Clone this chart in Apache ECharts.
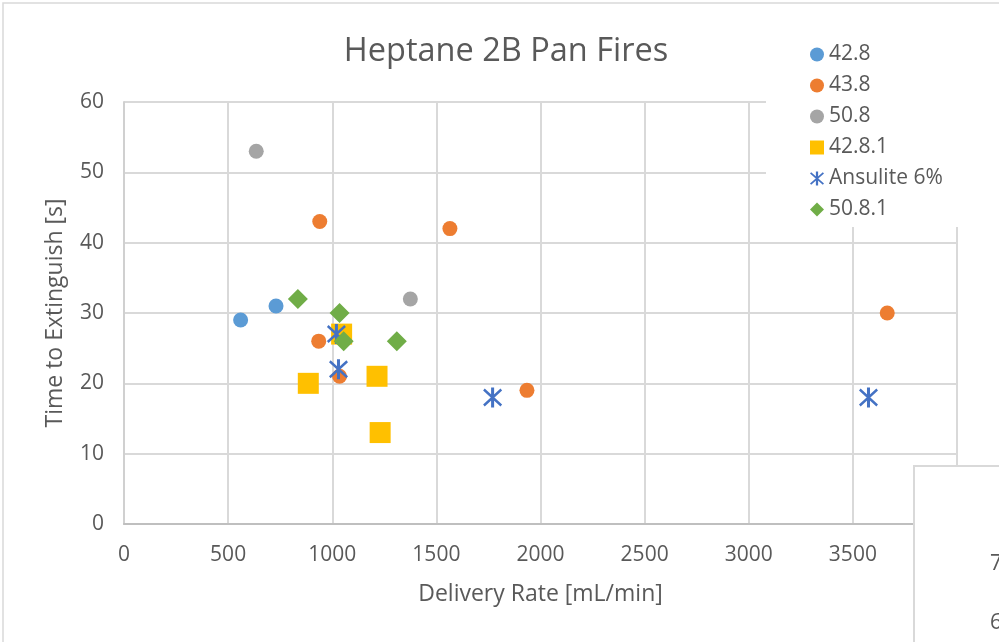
<!DOCTYPE html>
<html>
<head>
<meta charset="utf-8">
<script src="https://cdn.jsdelivr.net/npm/echarts@6/dist/echarts.min.js"></script>
<style>html,body{margin:0;padding:0;background:#fff}#c{width:999px;height:642px}</style>
</head>
<body>
<div id="c"></div>
<script>
// ---- data ----
const seriesNames = ['42.8', '43.8', '50.8', '42.8.1', 'Ansulite 6%', '50.8.1'];
const s428_x = [560, 730];
const s428_y = [29, 31];
const s438_x = [940, 1565, 935, 1035, 1935, 3665];
const s438_y = [43, 42, 26, 21, 19, 30];
const s508_x = [635, 1375];
const s508_y = [53, 32];
const s4281_x = [1045, 885, 1215, 1230];
const s4281_y = [27, 20, 21, 13];
const ans_x = [1020, 1030, 1770, 3575];
const ans_y = [27, 22, 18, 18];
const s5081_x = [835, 1035, 1055, 1310];
const s5081_y = [32, 30, 26, 26];
const xMin = 0, xMax = 4000, xStep = 500;
const yMin = 0, yMax = 60, yStep = 10;
const overlayTicks = ['7', '6'];

const FONT = 'Open Sans';
const TXT = '#595959';
const asterisk = 'path://M42 0L58 0L58 100L42 100Z' +
  'M8.26 5.09L100.26 85.09L91.74 94.91L-0.26 14.91Z' +
  'M91.74 5.09L100.26 14.91L8.26 94.91L-0.26 85.09Z';

function pts(xs, ys) { return xs.map((x, i) => [x, ys[i]]); }

const defs = [
  {name: seriesNames[0], data: pts(s428_x, s428_y), color: '#5B9BD5', symbol: 'circle', size: 15},
  {name: seriesNames[1], data: pts(s438_x, s438_y), color: '#ED7D31', symbol: 'circle', size: 15},
  {name: seriesNames[2], data: pts(s508_x, s508_y), color: '#A5A5A5', symbol: 'circle', size: 15},
  {name: seriesNames[3], data: pts(s4281_x, s4281_y), color: '#FFC000', symbol: 'rect', size: 21},
  {name: seriesNames[4], data: pts(ans_x, ans_y), color: '#4472C4', symbol: asterisk, size: [19, 20]},
  {name: seriesNames[5], data: pts(s5081_x, s5081_y), color: '#70AD47', symbol: 'diamond', size: 20}
];

const chart = echarts.init(document.getElementById('c'), null, {renderer: 'canvas'});
chart.setOption({
  animation: false,
  backgroundColor: '#fff',
  textStyle: {fontFamily: FONT},
  title: {
    text: 'Heptane 2B Pan Fires',
    left: 501, top: 30, textAlign: 'center',
    textStyle: {fontFamily: FONT, fontSize: 32.5, fontWeight: 'normal', color: TXT}
  },
  legend: {
    orient: 'vertical',
    left: 766, top: 22,
    padding: [22, 60, 7, 44],
    backgroundColor: '#fff',
    itemWidth: 14, itemHeight: 14, itemGap: 10,
    textStyle: {fontFamily: FONT, fontSize: 21, lineHeight: 21, color: TXT},
    data: seriesNames
  },
  grid: {left: 124, right: 42, top: 102, bottom: 118, containLabel: false},
  xAxis: {
    type: 'value', min: xMin, max: xMax, interval: xStep,
    name: 'Delivery Rate [mL/min]', nameLocation: 'middle', nameGap: 59,
    nameTextStyle: {fontFamily: FONT, fontSize: 23, color: TXT},
    axisLine: {show: true, lineStyle: {color: '#BFBFBF', width: 2}},
    axisTick: {show: false},
    axisLabel: {fontFamily: FONT, fontSize: 21, color: TXT, margin: 21,
                formatter: v => String(v)},
    splitLine: {show: true, lineStyle: {color: '#D9D9D9', width: 2}}
  },
  yAxis: {
    type: 'value', min: yMin, max: yMax, interval: yStep,
    name: 'Time to Extinguish [s]', nameLocation: 'middle', nameGap: 57,
    nameTextStyle: {fontFamily: FONT, fontSize: 23, color: TXT},
    axisLine: {show: true, lineStyle: {color: '#D0D0D0', width: 2}},
    axisTick: {show: false},
    axisLabel: {fontFamily: FONT, fontSize: 21, color: TXT, margin: 20,
                formatter: v => String(v)},
    splitLine: {show: true, lineStyle: {color: '#D9D9D9', width: 2}}
  },
  series: defs.map(d => ({
    type: 'scatter', name: d.name, data: d.data,
    symbol: d.symbol, symbolSize: d.size,
    itemStyle: {color: d.color, opacity: 1},
    emphasis: {disabled: true}
  })),
  graphic: [
    {type: 'rect', z: 100, silent: true,
     shape: {x: 3, y: 3, width: 1200, height: 1200},
     style: {fill: 'none', stroke: '#D9D9D9', lineWidth: 1.5}},
    {type: 'rect', z: 100, silent: true,
     shape: {x: 914, y: 466, width: 200, height: 300},
     style: {fill: '#fff', stroke: '#D9D9D9', lineWidth: 2}},
    {type: 'text', z: 101, silent: true, left: 990, top: 554,
     style: {text: overlayTicks[0], font: '21px "Open Sans"', fill: TXT}},
    {type: 'text', z: 101, silent: true, left: 990, top: 613,
     style: {text: overlayTicks[1], font: '21px "Open Sans"', fill: TXT}}
  ]
});
</script>
</body>
</html>
